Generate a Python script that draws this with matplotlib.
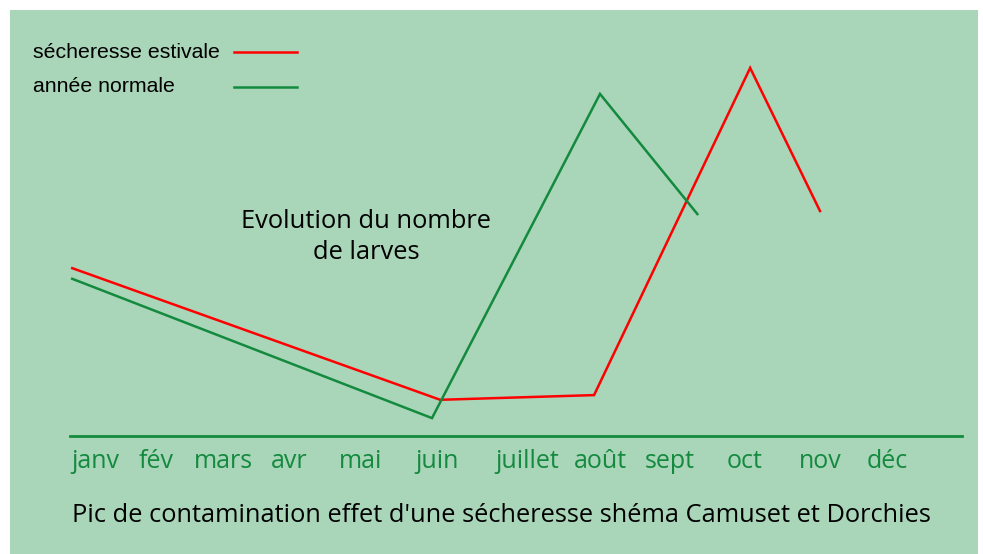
import matplotlib
matplotlib.use("Agg")
import matplotlib.pyplot as plt
from matplotlib.patches import Rectangle

# Data (x in month-position units along the axis, y = relative number of larvae)
dry_x = [0.03, 4.98, 7.05, 9.15, 10.09]
dry_y = [39.4, 8.5, 9.6, 86.4, 52.8]
normal_x = [0.03, 4.87, 7.13, 8.44]
normal_y = [36.9, 4.2, 80.3, 52.1]

months = ["janv", "fév", "mars", "avr", "mai", "juin",
          "juillet", "août", "sept", "oct", "nov", "déc"]
month_pos = [0.34, 1.16, 2.07, 2.95, 3.91, 4.94,
             6.15, 7.13, 8.07, 9.07, 10.09, 10.99]

BG = "#a9d5b9"
GREEN = "#138a3e"
RED = "#ff0000"
HUMANIST = ["Open Sans", "DejaVu Sans"]

W, H = 983, 554
fig = plt.figure(figsize=(W / 100, H / 100), dpi=100, facecolor="white")

# green panel
fig.patches.append(Rectangle((10 / W, 0), 968 / W, 544 / H,
                             transform=fig.transFigure, facecolor=BG,
                             edgecolor="none", zorder=-5))

ax = fig.add_axes([70 / W, (H - 436) / H, 892 / W, 426 / H])
ax.set_facecolor("none")
ax.set_xlim(0, 12)
ax.set_ylim(0, 100)

ax.plot(dry_x, dry_y, color=RED, lw=1.8, solid_joinstyle="miter")
ax.plot(normal_x, normal_y, color=GREEN, lw=1.8, solid_joinstyle="miter")

for side in ["top", "right", "left"]:
    ax.spines[side].set_visible(False)
ax.spines["bottom"].set_color(GREEN)
ax.spines["bottom"].set_linewidth(2.0)
ax.set_yticks([])
ax.set_xticks(month_pos)
ax.set_xticklabels(months, color=GREEN, fontsize=18, family=HUMANIST)
ax.tick_params(axis="x", length=0, pad=9)

# legend drawn by hand
fig.text(33 / W, 1 - 52 / H, "sécheresse estivale", fontsize=15.3,
         family="Liberation Sans", va="center", ha="left")
fig.text(33 / W, 1 - 86 / H, "année normale", fontsize=15.3,
         family="Liberation Sans", va="center", ha="left")
fig.add_artist(plt.Line2D([234 / W, 297 / W], [1 - 52 / H, 1 - 52 / H],
                          color=RED, lw=1.8))
fig.add_artist(plt.Line2D([234 / W, 297 / W], [1 - 87 / H, 1 - 87 / H],
                          color=GREEN, lw=1.8))

# annotation
fig.text(366 / W, 1 - 237 / H, "Evolution du nombre\nde larves", fontsize=18.4,
         family=HUMANIST, ha="center", va="center", linespacing=1.3)

# caption
fig.text(72 / W, 1 - 516 / H,
         "Pic de contamination effet d'une sécheresse shéma Camuset et Dorchies",
         fontsize=18.3, family=HUMANIST, ha="left", va="center")

fig.savefig("out.png", dpi=100, facecolor="white")
